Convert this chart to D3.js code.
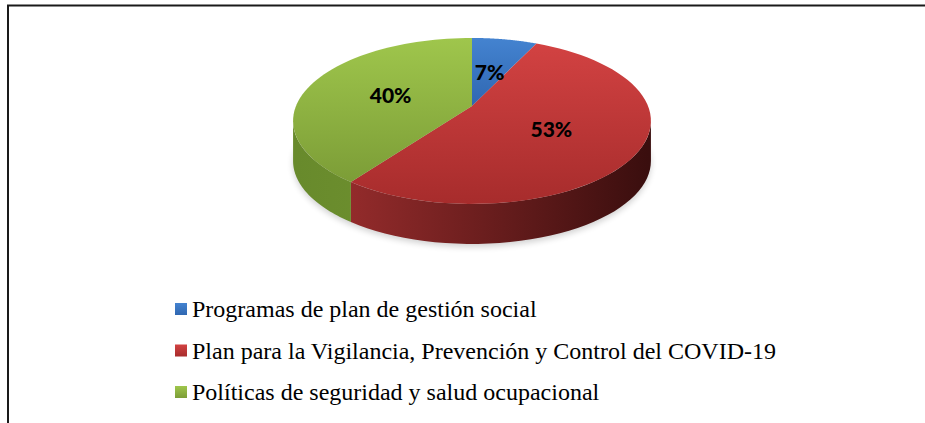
<!DOCTYPE html>
<html>
<head>
<meta charset="utf-8">
<script src="https://cdn.jsdelivr.net/npm/d3@7"></script>
<style>
  body { margin: 0; background: #fff; }
  svg { display: block; }
</style>
</head>
<body>
<svg id="chart"></svg>
<script>
const categories = [
    "Programas de plan de gestión social",
    "Plan para la Vigilancia, Prevención y Control del COVID-19",
    "Políticas de seguridad y salud ocupacional"
];
const values = [7, 53, 40];
const valueLabels = ["7%", "53%", "40%"];

const width = 925, height = 423;
const cx = 472, cy = 106, rx = 176, ry = 80.3, k = 0.18, depth = 40;

// colours per slice: top face (light, dark), side (left, right)
const topColors = [["#4483d0", "#2f67b1"], ["#d24242", "#a72c2c"], ["#9fc64c", "#7c9d37"]];
const sideColors = [["#2d5e9e", "#24497a"], ["#a33030", "#3a0e0e"], ["#688a2c", "#7c9e35"]];

const svg = d3.select("#chart").attr("width", width).attr("height", height);
const defs = svg.append("defs");

// perspective projection of a point on the disc
function proj(r, theta, drop) {
    const u = r * Math.sin(theta), v = -r * Math.cos(theta);
    const s = 1 / (1 - k * v);
    return [cx + rx * u * s, cy + ry * v * s + (drop || 0)];
}

const pie = d3.pie().sort(null).value(d => d);
const arcs = pie(values);

topColors.forEach((c, i) => {
    const g = defs.append("linearGradient").attr("id", "top" + i)
        .attr("x1", 0).attr("y1", 0).attr("x2", 0).attr("y2", 1);
    g.append("stop").attr("offset", "0%").attr("stop-color", c[0]);
    g.append("stop").attr("offset", "100%").attr("stop-color", c[1]);
});
sideColors.forEach((c, i) => {
    const g = defs.append("linearGradient").attr("id", "side" + i)
        .attr("gradientUnits", "userSpaceOnUse")
        .attr("x1", cx - rx).attr("y1", 0).attr("x2", cx + rx).attr("y2", 0);
    g.append("stop").attr("offset", "0%").attr("stop-color", c[0]);
    g.append("stop").attr("offset", "100%").attr("stop-color", c[1]);
});

const shadow = defs.append("filter").attr("id", "shadow")
    .attr("x", "-10%").attr("y", "-10%").attr("width", "120%").attr("height", "130%");
shadow.append("feGaussianBlur").attr("stdDeviation", 3);

const line = d3.line();

// soft shadow under the pie
const shadowPts = d3.range(0, 361, 4).map(a => proj(1, a * Math.PI / 180, depth + 3));
svg.append("path")
    .attr("d", line(shadowPts) + "Z")
    .attr("fill", "#000").attr("opacity", 0.18)
    .attr("filter", "url(#shadow)");

// side walls (visible front part of the rim)
const sideStart = Math.acos(-k), sideEnd = 2 * Math.PI - Math.acos(-k);
arcs.forEach((d, i) => {
    const a0 = Math.max(d.startAngle, sideStart), a1 = Math.min(d.endAngle, sideEnd);
    if (a1 <= a0) return;
    const n = 40;
    const angs = d3.range(n + 1).map(j => a0 + (a1 - a0) * j / n);
    const pts = angs.map(a => proj(1, a, 0)).concat(angs.slice().reverse().map(a => proj(1, a, depth)));
    svg.append("path")
        .attr("d", line(pts) + "Z")
        .attr("fill", `url(#side${i})`);
});

// top faces
arcs.forEach((d, i) => {
    const n = 60;
    const angs = d3.range(n + 1).map(j => d.startAngle + (d.endAngle - d.startAngle) * j / n);
    const pts = [proj(0, 0)].concat(angs.map(a => proj(1, a, 0)));
    svg.append("path")
        .attr("d", line(pts) + "Z")
        .attr("fill", `url(#top${i})`);
});

// value labels
arcs.forEach((d, i) => {
    const p = proj(0.5, (d.startAngle + d.endAngle) / 2, 0);
    svg.append("text")
        .attr("x", p[0]).attr("y", p[1] + 2)
        .attr("dy", "0.36em")
        .attr("text-anchor", "middle")
        .style("font-family", "Lato, 'Open Sans', sans-serif")
        .style("font-weight", "900")
        .style("font-size", "21px")
        .attr("fill", "#000")
        .text(valueLabels[i]);
});

// legend
const legendY = d3.scalePoint().domain(categories).range([309, 392]);
categories.forEach((c, i) => {
    const y = legendY(c);
    svg.append("rect")
        .attr("x", 175).attr("y", y - 6)
        .attr("width", 12).attr("height", 12)
        .attr("fill", `url(#top${i})`);
    svg.append("text")
        .attr("x", 192).attr("y", y + 8)
        .style("font-family", "'Liberation Serif', 'Times New Roman', serif")
        .style("font-size", "24px")
        .attr("fill", "#000")
        .text(c);
});

// frame (top and left edges)
svg.append("path")
    .attr("d", "M8,423V5.5H925")
    .attr("fill", "none")
    .attr("stroke", "#1a1a1a")
    .attr("stroke-width", 2);
</script>
</body>
</html>
